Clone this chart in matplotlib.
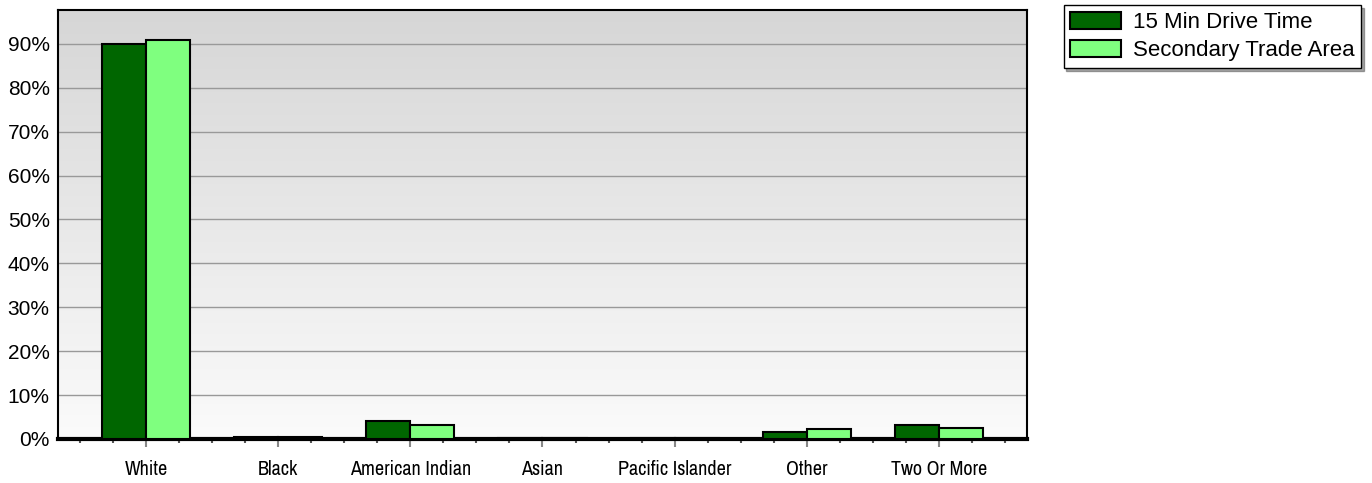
import numpy as np
import matplotlib.pyplot as plt
from matplotlib import font_manager
from matplotlib.colors import LinearSegmentedColormap
from matplotlib.ticker import MultipleLocator, FuncFormatter

categories = ['White', 'Black', 'American Indian', 'Asian', 'Pacific Islander', 'Other', 'Two Or More']
drive_time = [90.0, 0.4, 4.0, 0.3, 0.2, 1.7, 3.1]
secondary = [91.0, 0.4, 3.1, 0.3, 0.2, 2.2, 2.6]
series_names = ['15 Min Drive Time', 'Secondary Trade Area']

# narrow font for category labels if one is around
narrow = 'DejaVu Sans'
for f in font_manager.fontManager.ttflist:
    if 'Narrow' in f.name or 'Condensed' in f.name:
        narrow = f.name
        break

fig = plt.figure(figsize=(13.72, 4.83), dpi=100)
ax = fig.add_axes([0.0423, 0.0911, 0.7062, 0.888])

x = np.arange(len(categories))
w = 1 / 3
b1 = ax.bar(x - w / 2, drive_time, w, color='#006600', edgecolor='black', linewidth=1.5, zorder=3)
b2 = ax.bar(x + w / 2, secondary, w, color='#7fff7f', edgecolor='black', linewidth=1.5, zorder=3)

xlo, xhi, ytop = -2 / 3, len(categories) - 1 + 2 / 3, 97.7

# background gradient, grey on top fading to near white
grad = np.linspace(0, 1, 256).reshape(-1, 1)
ax.imshow(grad, cmap=LinearSegmentedColormap.from_list('bg', ['#d6d6d6', '#fbfbfb']),
          extent=[xlo, xhi, 0, ytop], origin='upper', aspect='auto', zorder=0)
ax.set_xlim(xlo, xhi)
ax.set_ylim(0, ytop)

ax.yaxis.set_major_locator(MultipleLocator(10))
ax.yaxis.set_major_formatter(FuncFormatter(lambda v, p: '%d%%' % v))
ax.grid(axis='y', color='#999999', linewidth=1, zorder=1)
ax.tick_params(axis='y', length=0, pad=6, labelsize=15)
for t in ax.get_yticklabels():
    t.set_fontfamily('Liberation Sans')

ax.set_xticks(x)
ax.set_xticklabels(categories, fontsize=14.5, fontfamily=narrow, fontweight='bold')
ax.set_xticks(np.arange(-0.5, len(categories) - 0.4, 0.25), minor=True)
ax.tick_params(axis='x', which='major', length=6, color='#888888', width=1.5, pad=9)
ax.tick_params(axis='x', which='minor', length=3, color='#555555', width=1.5)

for s in ['top', 'left', 'right']:
    ax.spines[s].set_linewidth(1.5)
ax.spines['bottom'].set_linewidth(3)

fig.legend([b1, b2], series_names, loc='upper right', bbox_to_anchor=(1.0, 1.012),
           frameon=True, fancybox=False, shadow=True, edgecolor='black', framealpha=1,
           prop={'family': 'Liberation Sans', 'size': 16}, handlelength=2.3, handleheight=0.8,
           borderpad=0.3, labelspacing=0.3, handletextpad=0.5)

fig.savefig('out.png', dpi=100)
